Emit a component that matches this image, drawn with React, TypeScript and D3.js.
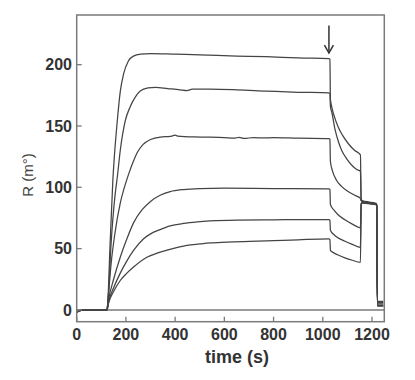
import React from "react";
import * as d3 from "d3";

type P = [number, number];

const xTicks = [0, 200, 400, 600, 800, 1000, 1200];
const yTicks = [0, 50, 100, 150, 200];
const xLabel = "time (s)";
const yLabel = "R (m°)";

// Injection-stop marker (time, from, to) in data units
const arrowT = 1025;
const arrowFrom = 232;
const arrowTo = 209.5;

const baseline: P[] = [[0, -2.2], [5, -1.2], [12, -0.6], [30, -0.2], [60, 0], [122, 0]];

const curve1: P[] = [[123, 0], [126, 5], [135, 50], [147, 106], [153, 125], [164, 152], [177, 178], [190, 192], [210, 203], [231, 207], [260, 208.5], [300, 209], [400, 208.5], [500, 208], [650, 207], [770, 206.5], [900, 205.5], [1025, 205], [1029, 204.5], [1031, 172], [1034, 168], [1045, 159], [1063, 149], [1080, 142.5], [1104, 135.5], [1130, 130], [1153, 126.5], [1156, 90], [1162, 89], [1190, 88], [1216, 87], [1219, 86], [1222, 7], [1246, 7]];
const curve2: P[] = [[123, 0], [126, 4], [140, 55], [155, 92], [166, 110], [177, 130], [197, 154], [217, 165.5], [238, 173.5], [258, 178.5], [290, 181], [320, 181.5], [370, 180.5], [420, 179.5], [448, 178.8], [470, 180], [542, 180], [650, 179.5], [770, 178.5], [900, 177.5], [1025, 177], [1029, 176.5], [1031, 166], [1037, 161], [1050, 147], [1063, 137.5], [1077, 130], [1098, 123], [1118, 118], [1138, 114.5], [1153, 113], [1156, 89.5], [1162, 88.5], [1190, 87.5], [1216, 86.5], [1219, 85.5], [1222, 6], [1246, 6]];
const curve3: P[] = [[123, 0], [127, 8], [140, 38], [155, 62], [177, 87], [200, 104], [215, 113], [230, 121], [245, 128], [270, 135], [300, 139], [340, 141], [380, 141.5], [400, 142.5], [410, 141.8], [502, 141], [600, 140.5], [640, 140], [660, 140.8], [680, 139.8], [720, 140.6], [760, 140.2], [800, 140.5], [900, 140], [1025, 139.7], [1029, 139.2], [1031, 121], [1040, 113], [1055, 106], [1075, 101], [1100, 97], [1130, 93.5], [1153, 91], [1156, 89], [1162, 88.5], [1190, 87.5], [1216, 86.5], [1219, 85.5], [1222, 5], [1246, 5]];
const curve4: P[] = [[123, 0], [130, 9], [150, 25], [177, 43], [204, 58], [231, 71], [265, 81.5], [300, 88.5], [339, 93.5], [380, 96.5], [434, 98.2], [500, 99], [600, 99.3], [800, 99], [1025, 98.7], [1029, 98.2], [1031, 86], [1045, 81.5], [1060, 78], [1090, 73.5], [1120, 70], [1153, 67], [1156, 87], [1162, 88], [1190, 87], [1216, 86.3], [1219, 85.5], [1222, 4], [1246, 4]];
const curve5: P[] = [[123, 0], [130, 7], [150, 18], [177, 30], [204, 40], [231, 48.5], [272, 58], [300, 62], [339, 65.5], [380, 68.5], [434, 70.5], [490, 71.8], [542, 72.6], [650, 73.3], [800, 73.5], [1025, 73.7], [1029, 73.2], [1031, 65], [1045, 61.5], [1060, 59], [1090, 56], [1120, 53.5], [1153, 51], [1156, 86.5], [1162, 87.5], [1190, 86.8], [1216, 86], [1219, 85], [1222, 3.5], [1246, 3.5]];
const curve6: P[] = [[123, 0], [130, 6], [150, 15], [177, 24], [204, 30], [231, 35], [285, 43], [330, 46.5], [367, 48.7], [410, 51], [448, 52.7], [500, 53.8], [542, 54.6], [637, 55.5], [800, 56.5], [900, 57.2], [1025, 57.9], [1029, 57.4], [1031, 48.5], [1045, 46.5], [1060, 45], [1090, 42.5], [1120, 40.5], [1153, 38.8], [1156, 86], [1162, 87], [1190, 86.5], [1216, 85.8], [1219, 84.5], [1222, 3], [1246, 3]];

const series: P[][] = [curve1, curve2, curve3, curve4, curve5, curve6].map((c) => baseline.concat(c));

const W = 415;
const H = 380;
const L = 76.7, R = 384.3, T = 15, B = 321.7;

export default function App() {
  const x = d3.scaleLinear().domain([0, 1250]).range([L, R]);
  const y = d3.scaleLinear().domain([-9.6, 240.5]).range([B, T]);
  const line = d3
    .line<P>()
    .x((d) => x(d[0]))
    .y((d) => y(d[1]))
    .curve(d3.curveMonotoneX);

  const frame = "#7a7a7a";
  const ink = "#444";
  const font = "Arial, 'Liberation Sans', Helvetica, sans-serif";
  const ax = x(arrowT);
  const ay1 = y(arrowFrom);
  const ay2 = y(arrowTo);

  return (
    <svg width={W} height={H} style={{ position: "absolute", left: 0, top: 0, background: "#fff" }}>
      <rect x={0} y={0} width={W} height={H} fill="#fff" />
      {/* zero line */}
      <line x1={L} x2={R} y1={y(0)} y2={y(0)} stroke={frame} strokeWidth={1.4} />
      {/* data */}
      {series.map((s, i) => (
        <path key={i} d={line(s) || ""} fill="none" stroke={ink} strokeWidth={1.25} strokeLinejoin="round" />
      ))}
      {/* frame */}
      <rect x={L} y={T} width={R - L} height={B - T} fill="none" stroke={frame} strokeWidth={1.5} />
      {/* x ticks */}
      {xTicks.map((t) => (
        <g key={"x" + t}>
          <line x1={x(t)} x2={x(t)} y1={B} y2={B - 5} stroke={frame} strokeWidth={1.3} />
          <text x={x(t)} y={340} textAnchor="middle" fontFamily={font} fontWeight="bold" fontSize={16} fill="#333">
            {t}
          </text>
        </g>
      ))}
      {/* y ticks */}
      {yTicks.map((t) => (
        <g key={"y" + t}>
          <line x1={L} x2={L + 5} y1={y(t)} y2={y(t)} stroke={frame} strokeWidth={1.3} />
          <text x={72} y={y(t)} dy="0.36em" textAnchor="end" fontFamily={font} fontWeight="bold" fontSize={16} fill="#333">
            {t}
          </text>
        </g>
      ))}
      {/* axis labels */}
      <text x={237} y={363} textAnchor="middle" fontFamily={font} fontWeight="bold" fontSize={18} fill="#333">
        {xLabel}
      </text>
      <text transform={`translate(33,175) rotate(-90)`} textAnchor="middle" fontFamily={font} fontSize={15} fill="#444">
        {yLabel}
      </text>
      {/* arrow */}
      <line x1={ax} x2={ax} y1={ay1} y2={ay2} stroke="#333" strokeWidth={1.5} />
      <polyline points={`${ax - 4.5},${ay2 - 8} ${ax},${ay2} ${ax + 4.5},${ay2 - 8}`} fill="none" stroke="#333" strokeWidth={1.5} />
    </svg>
  );
}
